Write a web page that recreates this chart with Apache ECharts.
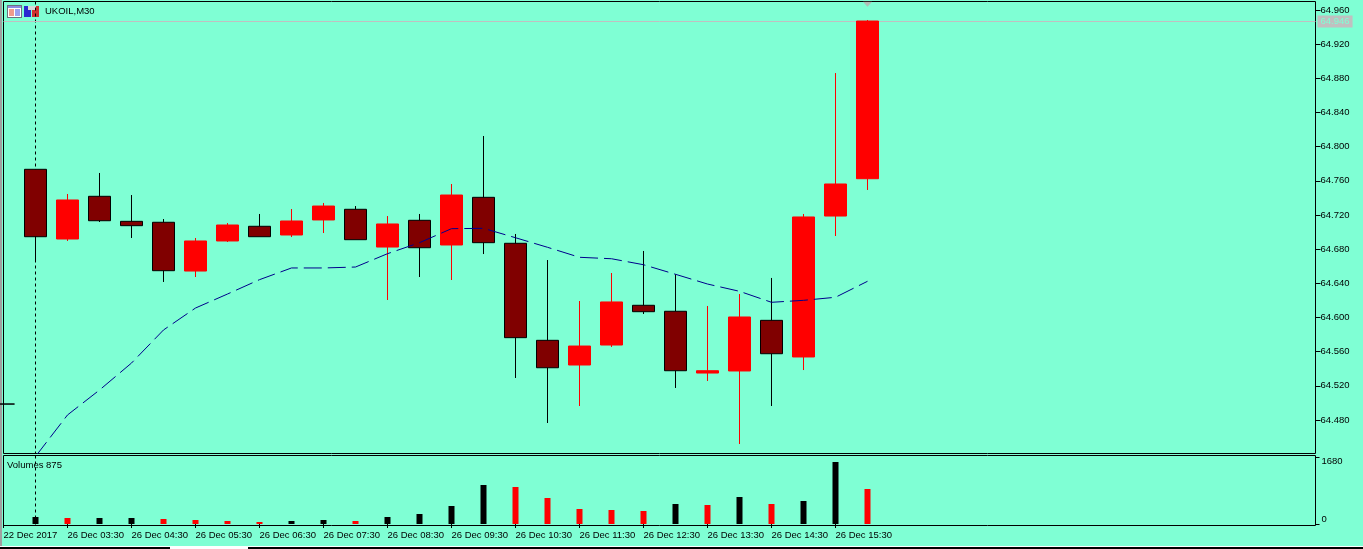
<!DOCTYPE html>
<html>
<head>
<meta charset="utf-8">
<style>
  html, body { margin: 0; padding: 0; background: #7FFFD4; overflow: hidden; }
  #chart { width: 1363px; height: 549px; }
</style>
<script src="https://cdn.jsdelivr.net/npm/echarts@6/dist/echarts.min.js"></script>
</head>
<body>
<div id="chart"></div>
<script>
// bars, the first one is the last bar of the previous session
const barTimes = ['22 Dec 2017', '26 Dec 03:00', '26 Dec 03:30', '26 Dec 04:00', '26 Dec 04:30', '26 Dec 05:00', '26 Dec 05:30',
  '26 Dec 06:00', '26 Dec 06:30', '26 Dec 07:00', '26 Dec 07:30', '26 Dec 08:00', '26 Dec 08:30', '26 Dec 09:00', '26 Dec 09:30',
  '26 Dec 10:00', '26 Dec 10:30', '26 Dec 11:00', '26 Dec 11:30', '26 Dec 12:00', '26 Dec 12:30', '26 Dec 13:00', '26 Dec 13:30',
  '26 Dec 14:00', '26 Dec 14:30', '26 Dec 15:00', '26 Dec 15:30', '26 Dec 16:00'];

// open, close, low, high
const ohlc = [
  [64.4987, 64.4987, 64.4987, 64.4987],
  [64.7735, 64.6946, 64.6653, 64.7735],
  [64.6919, 64.7376, 64.6896, 64.7446],
  [64.7419, 64.7133, 64.7118, 64.7692],
  [64.7126, 64.7075, 64.6931, 64.7434],
  [64.7115, 64.6548, 64.6416, 64.7153],
  [64.6544, 64.6896, 64.6474, 64.6931],
  [64.6896, 64.7083, 64.6884, 64.7106],
  [64.7068, 64.6946, 64.6946, 64.7212],
  [64.6966, 64.7130, 64.6942, 64.7270],
  [64.7142, 64.7305, 64.6989, 64.7341],
  [64.7267, 64.6911, 64.6911, 64.7305],
  [64.6825, 64.7095, 64.6205, 64.7188],
  [64.7138, 64.6817, 64.6474, 64.7212],
  [64.6849, 64.7434, 64.6439, 64.7563],
  [64.7407, 64.6876, 64.6743, 64.8125],
  [64.6869, 64.5764, 64.5292, 64.6978],
  [64.5733, 64.5412, 64.4765, 64.6673],
  [64.5444, 64.5666, 64.4964, 64.6193],
  [64.5678, 64.6182, 64.5655, 64.6521],
  [64.6143, 64.6068, 64.6041, 64.6779],
  [64.6073, 64.5377, 64.5175, 64.6506],
  [64.5350, 64.5377, 64.5257, 64.6135],
  [64.5374, 64.6006, 64.4519, 64.6275],
  [64.5967, 64.5576, 64.4964, 64.6463],
  [64.5538, 64.7177, 64.5385, 64.7212],
  [64.7188, 64.7563, 64.6954, 64.8862],
  [64.7625, 64.9471, 64.7493, 64.9483]
];

const maValues = [null, 64.4373, 64.4859, 64.5151, 64.5467, 64.5854, 64.6111, 64.6275, 64.6443, 64.6580, 64.6580, 64.6591, 64.6747, 64.6876,
  64.7040, 64.7044, 64.6934, 64.6822, 64.6705, 64.6688, 64.6618, 64.6506, 64.6392, 64.6307, 64.6178, 64.6201, 64.6237, 64.6424];

const volumes = [null, 175, 150, 150, 150, 125, 100, 75, 50, 75, 100, 75, 175, 250, 450, 975, 925, 650, 375, 350, 325, 500, 475, 675, 500, 575, 1550, 875];

const priceTicks = [64.48, 64.52, 64.56, 64.6, 64.64, 64.68, 64.72, 64.76, 64.8, 64.84, 64.88, 64.92, 64.96];
const volumeTicks = [0, 1680];
const lastPrice = 64.9465;
const lastPriceLabel = '64.946';
const askMarker = [[27, 64.9667]];

// empty slots to the right of the last bar
const categories = barTimes.concat(new Array(14).fill(''));

const FONT = 'Liberation Sans';
const BG = '#7FFFD4';

const labelEvery30 = (i) => i <= 26 && i % 2 === 0;

function paneXAxis(gridIndex, withLabels) {
  return {
    type: 'category',
    gridIndex,
    data: categories,
    boundaryGap: false,
    axisLine: { show: false },
    axisTick: { show: withLabels, interval: labelEvery30, length: 4, lineStyle: { color: '#000' } },
    axisLabel: {
      show: withLabels, interval: labelEvery30, align: 'left', margin: 5,
      color: '#000', fontFamily: FONT, fontSize: 9.5
    },
    // period separator
    splitLine: {
      show: true, interval: (i) => i === 1,
      lineStyle: { color: '#000', width: 1, type: [3, 3] }
    }
  };
}

function rect(x, y, width, height, fill) {
  return { type: 'rect', shape: { x, y, width, height }, style: { fill }, silent: true };
}

const myChart = echarts.init(document.getElementById('chart'), null, { renderer: 'canvas' });

myChart.setOption({
  animation: false,
  backgroundColor: BG,
  title: [
    { text: 'UKOIL,M30', left: 45, top: 6, padding: 0, textStyle: { color: '#000', fontFamily: FONT, fontSize: 9.5, fontWeight: 'normal' } },
    { text: 'Volumes 875', left: 7, top: 460, padding: 0, textStyle: { color: '#000', fontFamily: FONT, fontSize: 9.5, fontWeight: 'normal' } }
  ],
  grid: [
    { left: 3.5, top: 1.5, width: 1312, height: 452, show: true, borderColor: '#000', borderWidth: 1, backgroundColor: 'transparent' },
    { left: 3.5, top: 455.5, width: 1312, height: 70, show: true, borderColor: '#000', borderWidth: 1, backgroundColor: 'transparent' }
  ],
  xAxis: [paneXAxis(0, false), paneXAxis(1, true)],
  yAxis: [
    {
      type: 'value', gridIndex: 0, position: 'right',
      min: 64.4408, max: 64.96995,
      axisLine: { show: false },
      axisTick: { show: true, length: 5, customValues: priceTicks, lineStyle: { color: '#000' } },
      axisLabel: { customValues: priceTicks, margin: 5, color: '#000', fontFamily: FONT, fontSize: 9.5, formatter: (v) => v.toFixed(3) },
      splitLine: { show: false }
    },
    {
      type: 'value', gridIndex: 1, position: 'right',
      min: -37.5, max: 1712.5,
      axisLine: { show: false },
      axisTick: { show: true, length: 4, customValues: volumeTicks, lineStyle: { color: '#000' } },
      axisLabel: {
        customValues: volumeTicks, margin: 6, color: '#000', fontFamily: FONT, fontSize: 9.5,
        formatter: (v) => String(v),
        verticalAlignMinLabel: 'bottom', verticalAlignMaxLabel: 'top'
      },
      splitLine: { show: false }
    }
  ],
  series: [
    {
      type: 'candlestick',
      name: 'UKOIL',
      xAxisIndex: 0, yAxisIndex: 0,
      data: ohlc,
      barWidth: 23,
      itemStyle: {
        color: '#FF0000', color0: '#800000',
        borderColor: '#FF0000', borderColor0: '#000', borderColorDoji: '#000', borderWidth: 1
      }
    },
    {
      type: 'line',
      name: 'MA',
      xAxisIndex: 0, yAxisIndex: 0,
      data: maValues,
      showSymbol: false,
      z: 3,
      lineStyle: { color: '#00008B', width: 1, type: [18, 6] },
      markLine: {
        silent: true, symbol: 'none', animation: false, z: 1, precision: 4,
        lineStyle: { color: '#C0C0C0', width: 1, type: 'solid' },
        label: {
          position: 'end', distance: 2, formatter: lastPriceLabel,
          color: BG, backgroundColor: '#C0C0C0', padding: [1, 3, 1, 3], fontFamily: FONT, fontSize: 9.5
        },
        data: [{ yAxis: lastPrice }]
      }
    },
    {
      type: 'scatter',
      name: 'Ask',
      xAxisIndex: 0, yAxisIndex: 0,
      data: askMarker,
      symbol: 'triangle',
      symbolRotate: 180,
      symbolSize: [9, 5],
      itemStyle: { color: '#BDAFAF' }
    },
    {
      type: 'bar',
      name: 'Volumes',
      xAxisIndex: 1, yAxisIndex: 1,
      data: volumes,
      barWidth: 6,
      itemStyle: {
        // black when the volume did not fall, red otherwise
        color: (p) => (p.dataIndex > 1 && volumes[p.dataIndex] < volumes[p.dataIndex - 1] ? '#FF0000' : '#000')
      }
    }
  ],
  graphic: [
    // window edges of the screenshot
    rect(0, 0, 2, 547, '#A0A0A0'),
    rect(0, 546, 1363, 1, '#FFFFFF'),
    rect(0, 547, 170, 2, '#000'),
    rect(170, 547, 78, 2, '#FFFFFF'),
    rect(248, 547, 1115, 2, '#000'),
    // toolbar icons
    rect(7, 5, 15, 13, '#6E6E7E'),
    rect(8, 6, 13, 11, '#FFFFFF'),
    rect(8, 6, 13, 2, '#8C8CE0'),
    rect(9, 9, 5, 7, '#F09A8C'),
    rect(15, 9, 5, 7, '#9AA0F0'),
    rect(24, 6, 7, 11, '#2A2AD0'),
    rect(32, 6, 7, 11, '#D03030'),
    rect(28, 6, 8, 4, '#D8D8D8')
  ]
});
</script>
</body>
</html>
